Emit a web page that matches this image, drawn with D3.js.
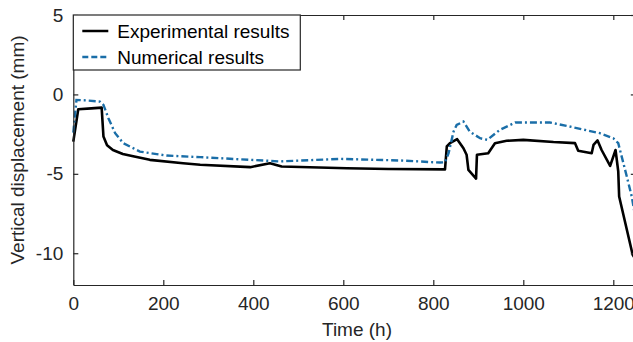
<!DOCTYPE html>
<html>
<head>
<meta charset="utf-8">
<script src="https://cdn.jsdelivr.net/npm/d3@7"></script>
<style>
  body { margin: 0; background: #fff; }
  svg { display: block; font-family: "Liberation Sans", Arial, sans-serif; }
</style>
</head>
<body>
<svg id="chart"></svg>
<script>
// Time (h) and vertical displacement (mm)
const expTime = [0, 11, 40, 63, 67, 75, 88, 110, 133, 170, 244, 282, 393, 437, 463, 608, 700, 826,
  830, 837, 853, 867, 874, 878, 895, 897, 922, 937, 963, 1000, 1067, 1115, 1122, 1152, 1156, 1165,
  1174, 1193, 1205, 1211, 1213, 1243, 1250];
const expDisp = [-2.97, -0.93, -0.88, -0.83, -2.65, -3.2, -3.5, -3.75, -3.9, -4.12, -4.33, -4.43, -4.58,
  -4.33, -4.54, -4.65, -4.7, -4.72, -3.28, -3.07, -2.82, -3.39, -3.8, -4.75, -5.3, -3.8, -3.7, -3.07,
  -2.92, -2.86, -3.0, -3.07, -3.55, -3.7, -3.18, -2.9, -3.5, -4.5, -3.5, -4.85, -6.43, -10.1, -10.4];

const numTime = [0, 7, 30, 59, 67, 78, 93, 111, 148, 207, 282, 393, 459, 593, 726, 815, 826, 834,
  845, 852, 867, 881, 904, 920, 948, 982, 1059, 1096, 1170, 1200, 1211, 1230, 1241, 1250];
const numDisp = [-2.4, -0.35, -0.38, -0.45, -0.66, -1.5, -2.44, -3.07, -3.6, -3.85, -3.95, -4.12,
  -4.22, -4.06, -4.16, -4.29, -4.27, -3.7, -2.34, -1.92, -1.71, -2.34, -2.76, -2.86, -2.23, -1.77,
  -1.77, -1.98, -2.44, -2.76, -3.07, -5.17, -6.43, -7.9];

const xTicks = [0, 200, 400, 600, 800, 1000, 1200];
const yTicks = [-10, -5, 0, 5];
const seriesNames = ["Experimental results", "Numerical results"];

const width = 633, height = 342;
const margin = {top: 15, left: 73.3, bottom: 57};
const plotRight = 635.8;
const axisColor = "#262626";
const blue = "#1a6ea8";

const svg = d3.select("#chart").attr("width", width).attr("height", height);

const x = d3.scaleLinear().domain([0, 1250]).range([margin.left, plotRight]);
const y = d3.scaleLinear().domain([-12, 5]).range([height - margin.bottom, margin.top]);

// data lines
const line = d3.line().x(d => x(d[0])).y(d => y(d[1]));
const expData = expTime.map((t, i) => [t, expDisp[i]]);
const numData = numTime.map((t, i) => [t, numDisp[i]]);

svg.append("path").datum(expData)
    .attr("d", line).attr("fill", "none")
    .attr("stroke", "#000").attr("stroke-width", 2.6)
    .attr("stroke-linejoin", "round");

svg.append("path").datum(numData)
    .attr("d", line).attr("fill", "none")
    .attr("stroke", blue).attr("stroke-width", 2.4)
    .attr("stroke-dasharray", "7,3,2,3");

// axes box with inward ticks (matlab style), plain hyphen minus, no thousands comma
const fmt = d => String(d);
const bottomAxis = d3.axisBottom(x).tickValues(xTicks).tickFormat(fmt).tickSizeInner(-5).tickSizeOuter(0).tickPadding(12);
const leftAxis = d3.axisLeft(y).tickValues(yTicks).tickFormat(fmt).tickSizeInner(-5).tickSizeOuter(0).tickPadding(12);
const topAxis = d3.axisTop(x).tickValues(xTicks).tickSizeInner(-5).tickSizeOuter(0).tickFormat("");
const rightAxis = d3.axisRight(y).tickValues(yTicks).tickSizeInner(-5).tickSizeOuter(0).tickFormat("");

const gx = svg.append("g").attr("transform", `translate(0,${y(-12)})`).call(bottomAxis);
const gy = svg.append("g").attr("transform", `translate(${margin.left},0)`).call(leftAxis);
svg.append("g").attr("transform", `translate(0,${y(5)})`).call(topAxis);
svg.append("g").attr("transform", `translate(${plotRight},0)`).call(rightAxis);

svg.selectAll(".domain, .tick line").attr("stroke", axisColor).attr("stroke-width", 1.2);
gx.selectAll("text").attr("font-size", 19).attr("fill", axisColor).attr("font-family", "Liberation Sans");
gy.selectAll("text").attr("font-size", 19).attr("fill", axisColor).attr("font-family", "Liberation Sans")
    .attr("dx", 2);

// axis labels
svg.append("text")
    .attr("x", 357).attr("y", 336)
    .attr("text-anchor", "middle")
    .attr("font-size", 19).attr("fill", axisColor)
    .text("Time (h)");

svg.append("text")
    .attr("transform", `translate(24,${(y(5) + y(-12)) / 2}) rotate(-90)`)
    .attr("text-anchor", "middle")
    .attr("font-size", 19).attr("fill", axisColor)
    .text("Vertical displacement (mm)");

// legend
const legend = svg.append("g").attr("transform", `translate(${margin.left},${margin.top})`);
legend.append("rect")
    .attr("width", 227).attr("height", 55)
    .attr("fill", "#fff").attr("stroke", axisColor).attr("stroke-width", 1.2);

const legendStyles = [
  {stroke: "#000", dash: null},
  {stroke: blue, dash: "6,3"}
];
seriesNames.forEach((name, i) => {
    const cy = 16 + i * 26;
    legend.append("line")
        .attr("x1", 9).attr("x2", 35).attr("y1", cy).attr("y2", cy)
        .attr("stroke", legendStyles[i].stroke).attr("stroke-width", 2.5)
        .attr("stroke-dasharray", legendStyles[i].dash);
    legend.append("text")
        .attr("x", 44).attr("y", cy + 7)
        .attr("font-size", 19).attr("fill", "#000")
        .text(name);
});
</script>
</body>
</html>
